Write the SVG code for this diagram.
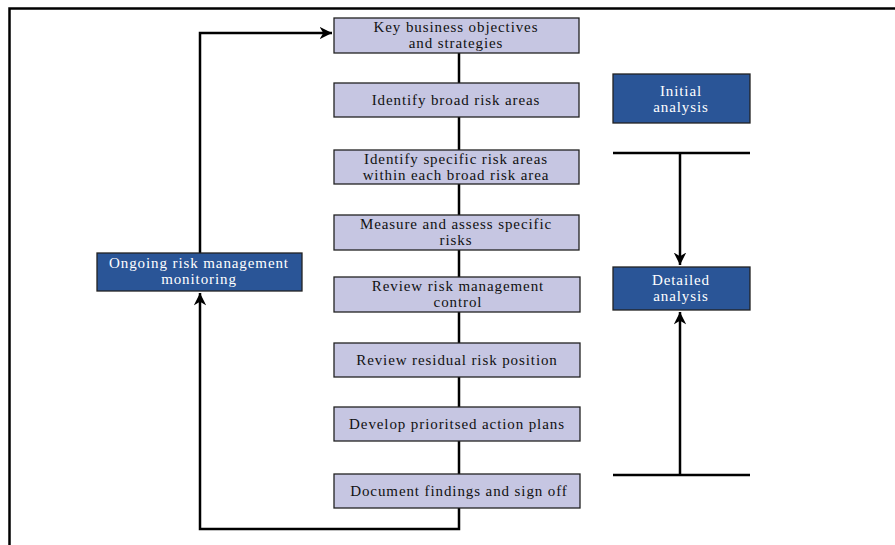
<svg xmlns="http://www.w3.org/2000/svg" width="895" height="545" viewBox="0 0 895 545">
<defs>
<style>
.lb{fill:#c6c6e2;stroke:#222;stroke-width:1.3}
.db{fill:#2a5597;stroke:#222;stroke-width:1.3}
.t{font-family:"Liberation Serif","Times New Roman",serif;font-size:15px;letter-spacing:0.9px;fill:#111;text-anchor:middle}
.w{font-family:"Liberation Serif","Times New Roman",serif;font-size:15px;letter-spacing:0.9px;fill:#fff;text-anchor:middle}
.c{fill:none;stroke:#000;stroke-width:2.5}
</style>
<marker id="ah" viewBox="0 0 10 10" refX="10" refY="5" markerWidth="5" markerHeight="5" orient="auto" markerUnits="strokeWidth">
<path d="M0,0 L10,5 L0,10 L3,5 Z" fill="#000"/>
</marker>
</defs>
<rect width="895" height="545" fill="#fff"/>
<path d="M9.5,545 V8.5 H895" fill="none" stroke="#000" stroke-width="2.5"/>
<g id="connectors">
<line class="c" x1="459" y1="53" x2="459" y2="474"/>
<path class="c" d="M459,507 V529 H200 V293" marker-end="url(#ah)"/>
<path class="c" d="M200,253 V33 H332" marker-end="url(#ah)"/>
<line class="c" x1="613" y1="153" x2="750" y2="153"/>
<line class="c" x1="680" y1="153" x2="680" y2="265" marker-end="url(#ah)"/>
<line class="c" x1="613" y1="475" x2="750" y2="475"/>
<line class="c" x1="680" y1="475" x2="680" y2="312" marker-end="url(#ah)"/>
</g>
<g id="n1"><rect class="lb" x="334" y="18" width="245" height="35"/><text class="t" x="456" y="32">Key business objectives</text><text class="t" x="456" y="48">and strategies</text></g>
<g id="n2"><rect class="lb" x="334" y="83" width="245" height="34"/><text class="t" x="456" y="105">Identify broad risk areas</text></g>
<g id="n3"><rect class="lb" x="334" y="150" width="245" height="34"/><text class="t" x="456" y="164">Identify specific risk areas</text><text class="t" x="456" y="180">within each broad risk area</text></g>
<g id="n4"><rect class="lb" x="334" y="215" width="245" height="35"/><text class="t" x="456" y="229">Measure and assess specific</text><text class="t" x="456" y="245">risks</text></g>
<g id="n5"><rect class="lb" x="334" y="277" width="246" height="35"/><text class="t" x="458" y="291">Review risk management</text><text class="t" x="458" y="307">control</text></g>
<g id="n6"><rect class="lb" x="334" y="343" width="246" height="34"/><text class="t" x="457" y="365">Review residual risk position</text></g>
<g id="n7"><rect class="lb" x="334" y="407" width="246" height="34"/><text class="t" x="457" y="429">Develop prioritsed action plans</text></g>
<g id="n8"><rect class="lb" x="334" y="474" width="246" height="34"/><text class="t" x="459" y="496">Document findings and sign off</text></g>
<g id="ongoing"><rect class="db" x="97" y="253" width="205" height="38"/><text class="w" x="199" y="268">Ongoing risk management</text><text class="w" x="199" y="284">monitoring</text></g>
<g id="initial"><rect class="db" x="613" y="74" width="137" height="49"/><text class="w" x="681" y="96">Initial</text><text class="w" x="681" y="112">analysis</text></g>
<g id="detailed"><rect class="db" x="613" y="267" width="137" height="43"/><text class="w" x="681" y="285">Detailed</text><text class="w" x="681" y="301">analysis</text></g>
</svg>
